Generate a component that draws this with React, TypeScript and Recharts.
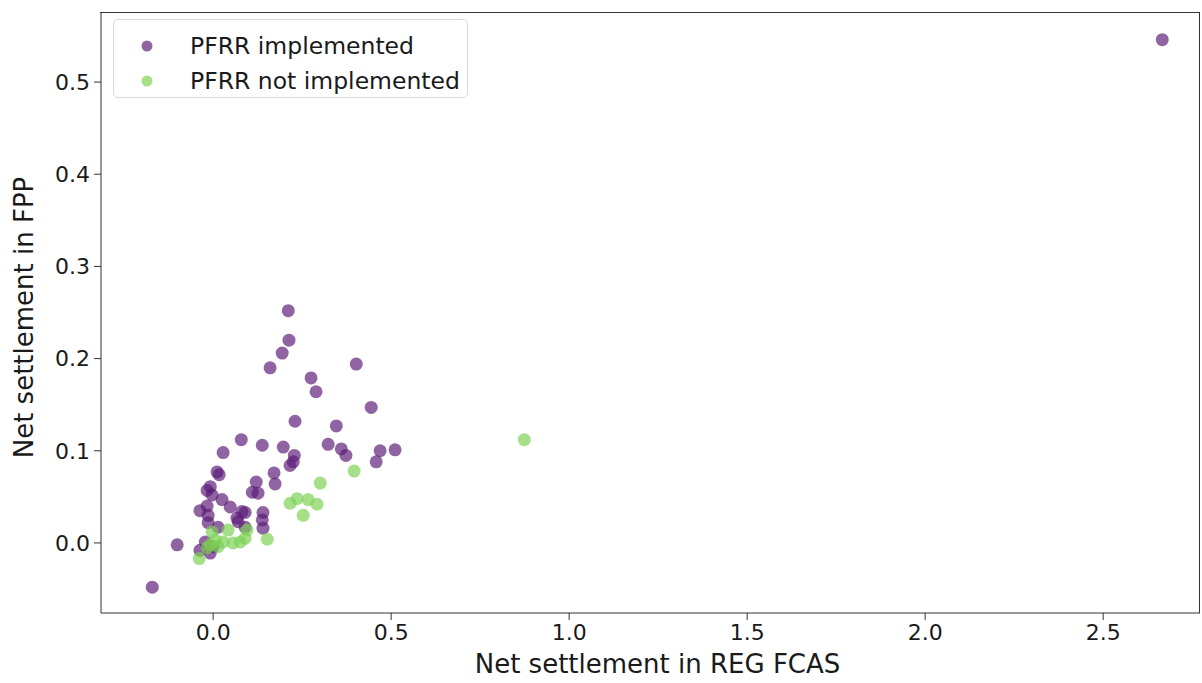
import { ScatterChart, Scatter, XAxis, YAxis } from "recharts";

// Net settlement values
const implementedX = [
  0.211, 0.213, 0.194, 0.16, 0.402, 0.275, 0.289, 0.444, 0.23, 0.346, 0.079, 0.138, 0.197, 0.028,
  0.323, 0.36, 0.373, 0.469, 0.511, 0.458, 0.228, 0.225, 0.216, 0.011, 0.017, 0.171, 0.174, 0.121,
  -0.008, 0.11, 0.126, -0.017, -0.003, 0.025, 0.048, -0.037, -0.017, -0.014, -0.014, 0.014, 0.081,
  0.09, 0.067, 0.07, 0.09, 0.14, 0.138, 0.14, -0.101, -0.037, -0.022, -0.008, 0.0, -0.171, 2.666,
];
const implementedY = [
  0.252, 0.22, 0.206, 0.19, 0.194, 0.179, 0.164, 0.147, 0.132, 0.127, 0.112, 0.106, 0.104, 0.098,
  0.107, 0.102, 0.095, 0.1, 0.101, 0.088, 0.095, 0.088, 0.084, 0.077, 0.074, 0.076, 0.064, 0.066,
  0.061, 0.055, 0.054, 0.057, 0.052, 0.047, 0.039, 0.035, 0.04, 0.03, 0.022, 0.017, 0.034, 0.033,
  0.027, 0.023, 0.017, 0.033, 0.025, 0.016, -0.002, -0.008, 0.001, -0.011, -0.004, -0.048, 0.546,
];
const notImplementedX = [
  0.301, 0.396, 0.216, 0.236, 0.267, 0.292, 0.253, 0.874, -0.039, -0.003, 0.042, 0.028, 0.056,
  0.09, 0.095, 0.152, -0.008, 0.006, 0.014, -0.017, 0.076,
];
const notImplementedY = [
  0.065, 0.078, 0.043, 0.048, 0.047, 0.042, 0.03, 0.112, -0.017, 0.012, 0.014, 0.001, 0.0, 0.005,
  0.014, 0.004, -0.002, 0.003, -0.004, -0.005, 0.001,
];

const xTicks = [0, 0.5, 1.0, 1.5, 2.0, 2.5];
const yTicks = [0, 0.1, 0.2, 0.3, 0.4, 0.5];

const implemented = implementedX.map((x, i) => ({ x, y: implementedY[i] }));
const notImplemented = notImplementedX.map((x, i) => ({ x, y: notImplementedY[i] }));

const PURPLE = "#5b1a78";
const GREEN = "#7ad151";
const FONT = "DejaVu Sans, sans-serif";

const dot = (color: string) => (props: any) =>
  <circle cx={props.cx} cy={props.cy} r={6.5} fill={color} fillOpacity={0.68} />;

function LegendBox() {
  const items = [
    { label: "PFRR implemented", color: PURPLE },
    { label: "PFRR not implemented", color: GREEN },
  ];
  return (
    <div
      style={{
        position: "absolute",
        left: 113,
        top: 19,
        width: 355,
        height: 79,
        border: "1px solid #d8d8d8",
        borderRadius: 5,
        background: "rgba(255,255,255,0.8)",
        boxSizing: "border-box",
        paddingTop: 8,
      }}
    >
      {items.map((it) => (
        <div key={it.label} style={{ display: "flex", alignItems: "center", height: 35 }}>
          <svg width={76} height={20}>
            <circle cx={33} cy={10} r={5.5} fill={it.color} fillOpacity={0.68} />
          </svg>
          <span style={{ fontSize: 23.5, color: "#1a1a1a", fontFamily: FONT }}>{it.label}</span>
        </div>
      ))}
    </div>
  );
}

export default function App() {
  return (
    <div style={{ position: "absolute", left: 0, top: 0, width: 1202, height: 683, background: "#fff" }}>
      <ScatterChart
        width={1202}
        height={683}
        margin={{ top: 12, right: 2, bottom: 0, left: 0 }}
        style={{ fontFamily: FONT }}
      >
        <XAxis
          type="number"
          dataKey="x"
          domain={[-0.315, 2.772]}
          ticks={xTicks}
          tickFormatter={(v: number) => v.toFixed(1)}
          allowDataOverflow
          height={70}
          stroke="#333"
          tickSize={7}
          tick={{ fontSize: 22, fill: "#1a1a1a" }}
          tickMargin={4}
          label={{ value: "Net settlement in REG FCAS", position: "insideBottom", offset: 10, fontSize: 26, fill: "#1a1a1a", dx: 7 }}
        />
        <YAxis
          type="number"
          dataKey="y"
          domain={[-0.076, 0.576]}
          ticks={yTicks}
          tickFormatter={(v: number) => v.toFixed(1)}
          allowDataOverflow
          width={101}
          stroke="#333"
          tickSize={7}
          tick={{ fontSize: 22, fill: "#1a1a1a" }}
          tickMargin={4}
          label={{ value: "Net settlement in FPP", angle: -90, position: "insideLeft", offset: 24, fontSize: 26, fill: "#1a1a1a", dy: 5, style: { textAnchor: "middle" } }}
        />
        <Scatter name="PFRR implemented" data={implemented} shape={dot(PURPLE)} isAnimationActive={false} />
        <Scatter name="PFRR not implemented" data={notImplemented} shape={dot(GREEN)} isAnimationActive={false} />
      </ScatterChart>
      {/* top and right spines of the axes frame */}
      <div
        style={{
          position: "absolute",
          left: 100,
          top: 12,
          width: 1100,
          height: 601,
          borderTop: "1px solid #333",
          borderRight: "1px solid #333",
          boxSizing: "border-box",
          pointerEvents: "none",
        }}
      />
      <LegendBox />
    </div>
  );
}
